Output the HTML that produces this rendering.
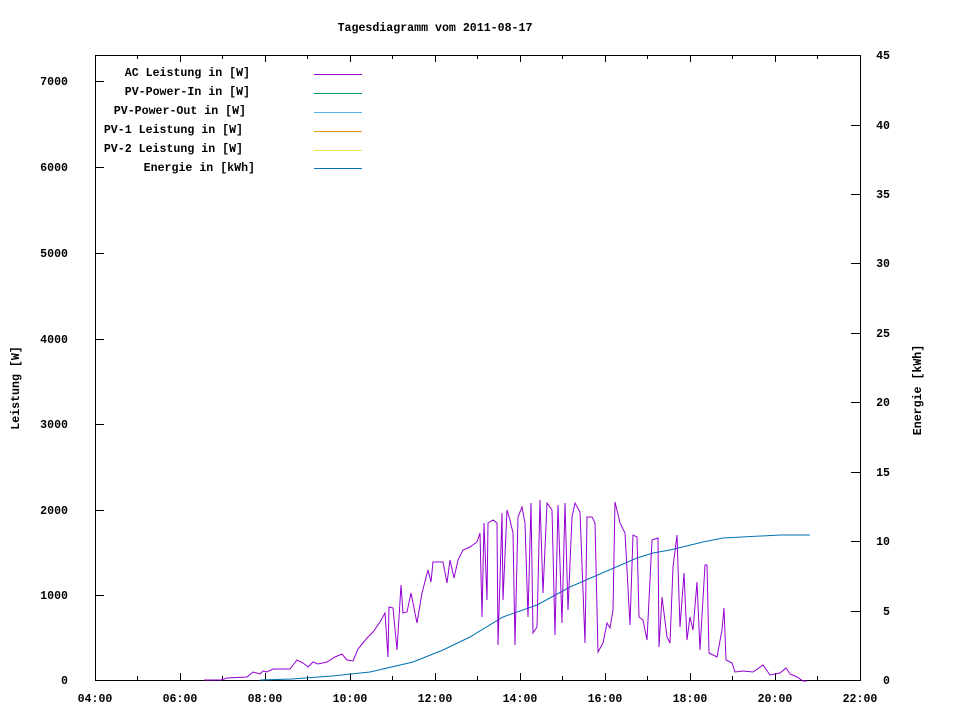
<!DOCTYPE html>
<html><head><meta charset="utf-8"><style>
html,body{margin:0;padding:0;background:#fff}
svg{display:block}
text{font-family:"Liberation Mono","DejaVu Sans Mono",monospace;font-size:11.6px;font-weight:bold;fill:#000}
</style></head><body>
<svg width="960" height="720" viewBox="0 0 960 720" xmlns="http://www.w3.org/2000/svg">
<rect width="960" height="720" fill="#fff"/>
<text x="435" y="31" text-anchor="middle">Tagesdiagramm vom 2011-08-17</text>
<g stroke="#000" stroke-width="1" fill="none" shape-rendering="crispEdges">
<rect x="95.5" y="55.5" width="765" height="625"/>
<path d="M95 595.5h9M95 510.5h9M95 424.5h9M95 339.5h9M95 253.5h9M95 167.5h9M95 81.5h9"/>
<path d="M860 611.5h-9M860 541.5h-9M860 472.5h-9M860 402.5h-9M860 333.5h-9M860 263.5h-9M860 194.5h-9M860 125.5h-9"/>
<path d="M137.5 680v-4M180.5 680v-7M222.5 680v-4M265.5 680v-7M307.5 680v-4M350.5 680v-7M392.5 680v-4M435.5 680v-7M477.5 680v-4M520.5 680v-7M562.5 680v-4M605.5 680v-7M647.5 680v-4M690.5 680v-7M732.5 680v-4M775.5 680v-7M817.5 680v-4"/>
<path d="M137.5 55v4M180.5 55v7M222.5 55v4M265.5 55v7M307.5 55v4M350.5 55v7M392.5 55v4M435.5 55v7M477.5 55v4M520.5 55v7M562.5 55v4M605.5 55v7M647.5 55v4M690.5 55v7M732.5 55v4M775.5 55v7M817.5 55v4"/>
</g>
<g text-anchor="end">
<text x="68" y="684">0</text><text x="68" y="599">1000</text><text x="68" y="514">2000</text><text x="68" y="428">3000</text><text x="68" y="343">4000</text><text x="68" y="257">5000</text><text x="68" y="171">6000</text><text x="68" y="85">7000</text>
</g>
<g text-anchor="end">
<text x="890" y="684">0</text><text x="890" y="615">5</text><text x="890" y="545">10</text><text x="890" y="476">15</text><text x="890" y="406">20</text><text x="890" y="337">25</text><text x="890" y="267">30</text><text x="890" y="198">35</text><text x="890" y="129">40</text><text x="890" y="59">45</text>
</g>
<g text-anchor="middle">
<text x="95" y="702">04:00</text><text x="180" y="702">06:00</text><text x="265" y="702">08:00</text><text x="350" y="702">10:00</text><text x="435" y="702">12:00</text><text x="520" y="702">14:00</text><text x="605" y="702">16:00</text><text x="690" y="702">18:00</text><text x="775" y="702">20:00</text><text x="860" y="702">22:00</text>
</g>
<text transform="translate(19,388) rotate(-90)" text-anchor="middle">Leistung [W]</text>
<text transform="translate(921,390) rotate(-90)" text-anchor="middle">Energie [kWh]</text>
<g text-anchor="end">
<text x="250" y="76">AC Leistung in [W]</text>
<text x="250" y="95">PV-Power-In in [W]</text>
<text x="246" y="114">PV-Power-Out in [W]</text>
<text x="243" y="133">PV-1 Leistung in [W]</text>
<text x="243" y="152">PV-2 Leistung in [W]</text>
<text x="255" y="171">Energie in [kWh]</text>
</g>
<g stroke-width="1" shape-rendering="crispEdges">
<path d="M314 74.5h48" stroke="#9400D3"/>
<path d="M314 93.5h48" stroke="#009E73"/>
<path d="M314 112.5h48" stroke="#56B4E9"/>
<path d="M314 131.5h48" stroke="#E69F00"/>
<path d="M314 150.5h48" stroke="#F0E442"/>
<path d="M314 168.5h48" stroke="#0072B2"/>
</g>
<polyline fill="none" stroke="#0072B2" stroke-width="1" points="260,680 292,679 332,676 370,672 413,662 443,650 470,637 503,617 537,605 570,587 593,577 637,558 653,553 670,550 703,542 723,538 780,535 810,535"/>
<polyline fill="none" stroke="#9400D3" stroke-width="1" points="204,680 221,680 227,678 247,677 253,672 260,674 263,671 267,672 273,669 290,669 297,660 303,663 308,667 313,662 318,664 327,662 335,657 342,654 347,660 353,661 358,649 367,638 373,632 380,622 385,613 388,657 389,607 393,608 397,650 401,585 403,613 407,612 411,593 417,623 422,593 428,570 431,582 433,562 443,562 447,583 450,560 454,578 458,560 463,550 470,547 477,542 480,533 482,617 484,523 487,600 488,523 493,520 497,523 498,645 502,513 503,600 507,510 510,520 513,533 515,645 518,517 522,507 525,523 528,617 531,503 533,633 537,627 540,500 543,593 547,503 552,510 555,635 558,505 562,623 565,503 568,610 572,517 575,503 580,512 585,643 587,517 592,517 595,523 598,652 603,643 607,623 610,628 613,610 615,502 620,523 625,533 630,625 633,535 637,537 639,617 643,620 647,640 652,540 658,538 659,647 662,597 667,637 670,643 673,567 677,535 680,627 684,573 687,640 690,617 693,630 697,582 700,650 705,565 707,565 709,653 717,657 722,630 724,608 726,660 732,663 735,672 743,671 753,672 763,665 770,675 780,673 786,668 790,674 797,677 803,681 807,681"/>
</svg>
</body></html>
